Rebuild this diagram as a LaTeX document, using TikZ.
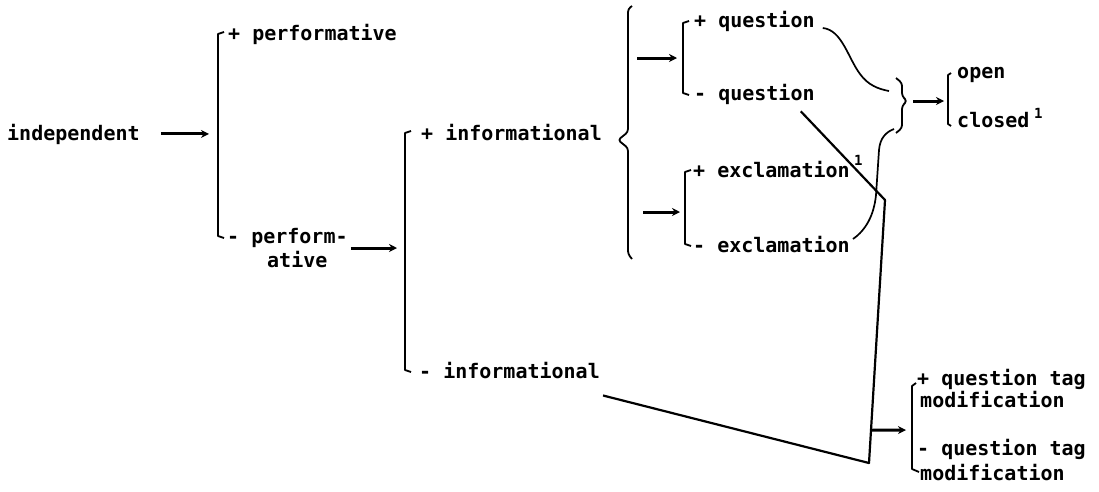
\documentclass[tikz,border=0pt]{standalone}
\usepackage{fontspec}
\usepackage{tikz}
\usetikzlibrary{arrows.meta,calc}
\newfontfamily\termfont{DejaVu Sans Mono}

\begin{document}
\begin{tikzpicture}
[x=1pt,y=-1pt,>={Stealth[length=8pt,width=8pt]},
term/.style={anchor=base west,inner sep=0pt,
font=\termfont\bfseries\fontsize{20pt}{24pt}\selectfont},
note/.style={anchor=base west,inner sep=0pt,
font=\termfont\bfseries\fontsize{14pt}{16pt}\selectfont},
arr/.style={->,line width=3pt},
brk/.style={line width=1.8pt,line join=round},
link/.style={line width=1.7pt,line join=round}]
\path[fill=white] (0,0) rectangle (1099,491);
% features
\node at (7,140) [term] (indep) {independent};
\node at (228,40) [term] (perfP) {+ performative};
\node at (227,243) [term] (perfM) {- perform-};
\node at (267,267) [term] (ative) {ative};
\node at (421,140) [term] (infoP) {+ informational};
\node at (419,378) [term] (infoM) {- informational};
\node at (694,27) [term] (quesP) {+ question};
\node at (694,100) [term] (quesM) {- question};
\node at (693,177) [term] (exclP) {+ exclamation};
\node at (693,252) [term] (exclM) {- exclamation};
\node at (957,78) [term] (open) {open};
\node at (957,127) [term] (closed) {closed};
\node at (917,385) [term] (tagP) {+ question tag};
\node at (920,407) [term] (modP) {modification};
\node at (917,455) [term] (tagM) {- question tag};
\node at (920,480) [term] (modM) {modification};
\node at (854,165) [note] (fnA) {1};
\node at (1034,118) [note] (fnB) {1};
% brackets and braces
\draw[brk] (224,32) -- (218,34) -- (218,236) -- (224,238);
\draw[brk] (411,131) -- (405,133) -- (405,370) -- (411,372);
\draw[brk,rounded corners=3pt] (632,6) -- (628,9) -- (628,132) -- (618,140)
  -- (628,148) -- (628,254) -- (632,259);
\draw[brk] (689,21) -- (683,23) -- (683,93) -- (689,95);
\draw[brk] (691,170) -- (685,172) -- (685,244) -- (691,246);
\draw[brk,rounded corners=3pt] (896,78) -- (902,83) -- (902,96) -- (907,101)
  -- (902,106) -- (902,128) -- (896,133);
\draw[brk] (951,73) -- (948,75) -- (948,124) -- (951,126);
\draw[brk] (916,383) -- (912,386) -- (912,469) -- (919,472);
\coordinate (b1) at (218,135);
\coordinate (b2) at (405,248);
\coordinate (br) at (628,140);
\coordinate (b3) at (683,58);
\coordinate (b4) at (685,212);
\coordinate (kt) at (907,101);
\coordinate (b5) at (948,101);
\coordinate (b6) at (912,430);
\coordinate (qc) at (885,200);
\coordinate (lc) at (869,463);
% arrows
\draw[arr,shorten <=21pt,shorten >=9pt] (indep.east) -- (indep.east -| b1);
\draw[arr,shorten <=3pt,shorten >=8pt] ([yshift=-5pt]perfM.base east)
  -- ([yshift=-5pt]perfM.base east -| b2);
\draw[arr,shorten <=9pt,shorten >=6pt] (br |- b3) -- (b3);
\draw[arr,shorten <=15pt,shorten >=5pt] (br |- b4) -- (b4);
\draw[arr,shorten <=6pt,shorten >=4pt] (kt) -- (b5);
\draw[arr,shorten <=1pt,shorten >=6pt] ($(lc)!0.125!(qc)$) -- (b6);
% links between the sub-systems
\draw[link,line width=2.2pt] ([shift={(-14,7)}]quesM.south east) -- (qc) -- (lc)
  -- ([shift={(3,17)}]infoM.south east);
\draw[link] ([shift={(8,1)}]quesP.base east) .. controls (842,30) and (848,58) .. (860,74)
  .. controls (868,85) and (878,89) .. (889,91);
\draw[link] ([shift={(3,-13)}]exclM.base east) .. controls (866,230) and (874,215) .. (876,195)
  -- (879,150) .. controls (880,138) and (886,132) .. (894,129);
\end{tikzpicture}
\end{document}
